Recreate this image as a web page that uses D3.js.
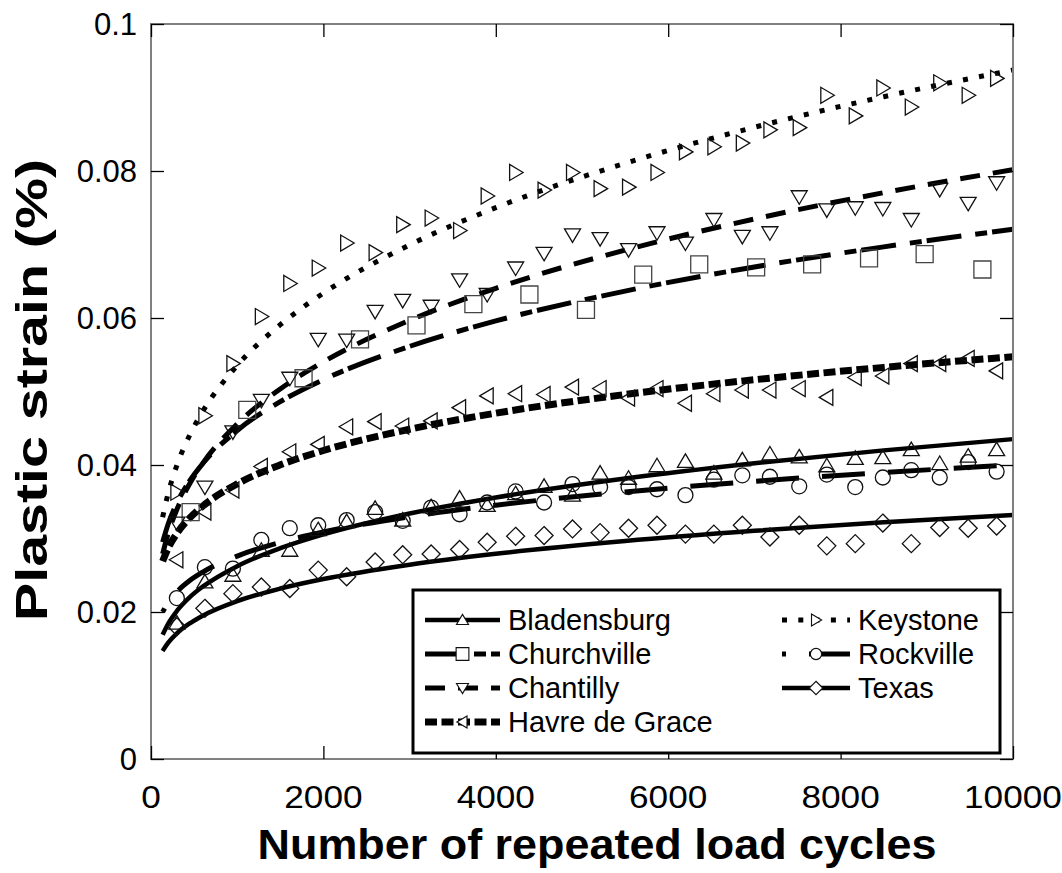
<!DOCTYPE html>
<html>
<head>
<meta charset="utf-8">
<script src="https://cdn.jsdelivr.net/npm/d3@7"></script>
<style>
  html, body { margin: 0; padding: 0; background: #fff; }
  svg text { font-family: "Liberation Sans", Arial, Helvetica, sans-serif; }
</style>
</head>
<body>
<svg id="chart" width="1062" height="873"></svg>
<script>
// ---------------- DATA ----------------
const seriesNames = ["Bladensburg", "Churchville", "Chantilly", "Havre de Grace", "Keystone", "Rockville", "Texas"];

// common load-cycle grid (all series except Churchville)
const cycles = [300, 625, 950, 1280, 1610, 1940, 2270, 2600, 2920, 3250,
                3580, 3900, 4230, 4560, 4890, 5210, 5540, 5870, 6200, 6530,
                6860, 7180, 7520, 7840, 8170, 8490, 8820, 9150, 9480, 9810];
const cyclesChurchville = [460, 1117, 1770, 2425, 3080, 3740, 4390, 5046, 5710, 6360,
                           7020, 7670, 8330, 8975, 9645];

const bladensburg = [0.0185, 0.0241, 0.0250, 0.0284, 0.0284, 0.0312, 0.0323, 0.0341, 0.0325, 0.0343,
                     0.0355, 0.0345, 0.0361, 0.0371, 0.0359, 0.0389, 0.0382, 0.0399, 0.0405, 0.0389,
                     0.0407, 0.0415, 0.0411, 0.0399, 0.0409, 0.0410, 0.0421, 0.0402, 0.0412, 0.0421];
const churchville = [0.0336, 0.0475, 0.0518, 0.0571, 0.0590, 0.0619, 0.0632, 0.0611, 0.0659, 0.0673,
                     0.0669, 0.0673, 0.0681, 0.0687, 0.0666];
const chantilly = [0.0321, 0.0370, 0.0445, 0.0488, 0.0518, 0.0571, 0.0570, 0.0609, 0.0624, 0.0616,
                   0.0652, 0.0632, 0.0668, 0.0688, 0.0713, 0.0708, 0.0693, 0.0716, 0.0702, 0.0734,
                   0.0711, 0.0716, 0.0765, 0.0747, 0.0750, 0.0749, 0.0734, 0.0775, 0.0756, 0.0784];
const havreDeGrace = [0.0271, 0.0336, 0.0366, 0.0398, 0.0418, 0.0428, 0.0452, 0.0459, 0.0453, 0.0460,
                      0.0478, 0.0494, 0.0497, 0.0496, 0.0506, 0.0504, 0.0491, 0.0504, 0.0484, 0.0497,
                      0.0502, 0.0502, 0.0504, 0.0492, 0.0519, 0.0521, 0.0538, 0.0538, 0.0545, 0.0528];
const keystone = [0.0363, 0.0467, 0.0538, 0.0602, 0.0647, 0.0668, 0.0702, 0.0689, 0.0727, 0.0736,
                  0.0719, 0.0766, 0.0798, 0.0774, 0.0798, 0.0776, 0.0778, 0.0798, 0.0826, 0.0833,
                  0.0838, 0.0856, 0.0859, 0.0903, 0.0875, 0.0913, 0.0887, 0.0920, 0.0903, 0.0926];
const rockville = [0.0219, 0.0261, 0.0259, 0.0298, 0.0314, 0.0318, 0.0325, 0.0336, 0.0324, 0.0342,
                   0.0333, 0.0349, 0.0364, 0.0349, 0.0374, 0.0370, 0.0370, 0.0367, 0.0359, 0.0380,
                   0.0386, 0.0384, 0.0371, 0.0387, 0.0370, 0.0383, 0.0393, 0.0383, 0.0404, 0.0391];
const texas = [0.0180, 0.0205, 0.0225, 0.0234, 0.0232, 0.0257, 0.0248, 0.0268, 0.0278, 0.0279,
               0.0285, 0.0295, 0.0303, 0.0304, 0.0313, 0.0308, 0.0314, 0.0318, 0.0306, 0.0306,
               0.0318, 0.0302, 0.0318, 0.0290, 0.0293, 0.0321, 0.0293, 0.0315, 0.0314, 0.0317];

// fitted trend curves
const trendCycles = [135, 200, 300, 450, 600, 1000, 1500, 2000, 3000, 4000, 5500, 7000, 8500, 10000];
const trendBladensburg = [0.01690, 0.01842, 0.02014, 0.02202, 0.02345, 0.02624, 0.02868, 0.03056, 0.03340, 0.03558, 0.03816, 0.04024, 0.04199, 0.04352];
const trendChurchville = [0.02950, 0.03200, 0.03482, 0.03787, 0.04020, 0.04470, 0.04862, 0.05161, 0.05614, 0.05960, 0.06366, 0.06694, 0.06968, 0.07207];
const trendChantilly   = [0.02790, 0.03072, 0.03394, 0.03748, 0.04022, 0.04559, 0.05035, 0.05403, 0.05968, 0.06404, 0.06924, 0.07347, 0.07705, 0.08018];
const trendHavre       = [0.02690, 0.02870, 0.03069, 0.03281, 0.03441, 0.03743, 0.04002, 0.04197, 0.04487, 0.04705, 0.04959, 0.05160, 0.05328, 0.05473];
const trendKeystone    = [0.03290, 0.03620, 0.03995, 0.04409, 0.04729, 0.05354, 0.05909, 0.06338, 0.06994, 0.07501, 0.08105, 0.08595, 0.09011, 0.09374];
const trendRockville   = [0.02000, 0.02131, 0.02274, 0.02428, 0.02543, 0.02761, 0.02948, 0.03088, 0.03296, 0.03453, 0.03634, 0.03778, 0.03898, 0.04001];
const trendTexas       = [0.01470, 0.01583, 0.01710, 0.01846, 0.01950, 0.02148, 0.02319, 0.02449, 0.02644, 0.02792, 0.02966, 0.03104, 0.03220, 0.03321];

const xTicks = [0, 2000, 4000, 6000, 8000, 10000];
const yTicks = [0, 0.02, 0.04, 0.06, 0.08, 0.1];
const yTickLabels = ["0", "0.02", "0.04", "0.06", "0.08", "0.1"];
const xTitle = "Number of repeated load cycles";
const yTitle = "Plastic strain (%)";

// ---------------- STYLE ----------------
const series = [
  { name: seriesNames[0], x: cycles, y: bladensburg, trend: trendBladensburg, marker: "up",      dash: null,           width: 4.5, off: 0 },
  { name: seriesNames[1], x: cyclesChurchville, y: churchville, trend: trendChurchville, marker: "square", dash: "35,14,12,5", width: 5, off: 0 },
  { name: seriesNames[2], x: cycles, y: chantilly, trend: trendChantilly, marker: "down",    dash: "20,13",        width: 5, off: 0 },
  { name: seriesNames[3], x: cycles, y: havreDeGrace, trend: trendHavre, marker: "left",    dash: "12,4.5",       width: 7, off: 0 },
  { name: seriesNames[4], x: cycles, y: keystone, trend: trendKeystone, marker: "right",   dash: "5,11.3",       width: 5, off: 0 },
  { name: seriesNames[5], x: cycles, y: rockville, trend: trendRockville, marker: "circle",  dash: "43,23",        width: 5, off: 39 },
  { name: seriesNames[6], x: cycles, y: texas, trend: trendTexas, marker: "diamond", dash: null,           width: 4.5, off: 0 }
];

const markerPath = {
  up:      "M0,-7.5L8,6L-8,6Z",
  down:    "M0,7.5L8,-6L-8,-6Z",
  right:   "M7.5,0L-6,-8L-6,8Z",
  left:    "M-7.5,0L6,-8L6,8Z",
  square:  "M-8.5,-8.5H8.5V8.5H-8.5Z",
  diamond: "M0,-9L9,0L0,9L-9,0Z",
  circle:  "M7.5,0A7.5,7.5 0 1,1 -7.5,0A7.5,7.5 0 1,1 7.5,0Z"
};

// ---------------- CHART ----------------
const svg = d3.select("#chart");
const mLeft = 151, mRight = 1013, mTop = 24, mBottom = 759;
const x = d3.scaleLinear().domain([0, 10000]).range([mLeft, mRight]);
const y = d3.scaleLinear().domain([0, 0.1]).range([mBottom, mTop]);

const plot = svg.append("g");

// trend lines
const line = d3.line().x(d => x(d[0])).y(d => y(d[1])).curve(d3.curveMonotoneX);
series.forEach(s => {
  plot.append("path")
    .datum(trendCycles.map((c, i) => [c, s.trend[i]]))
    .attr("d", line)
    .attr("fill", "none")
    .attr("stroke", "#000")
    .attr("stroke-width", s.width)
    .attr("stroke-dasharray", s.dash)
    .attr("stroke-dashoffset", s.off);
});

// markers
series.forEach(s => {
  plot.append("g").selectAll("path")
    .data(s.x.map((c, i) => [c, s.y[i]]))
    .join("path")
    .attr("transform", d => `translate(${x(d[0])},${y(d[1])})`)
    .attr("d", markerPath[s.marker])
    .attr("fill", "none")
    .attr("stroke", s.marker === "square" ? "#444" : "#111")
    .attr("stroke-width", 1.3);
});

// frame
svg.append("rect")
  .attr("x", mLeft).attr("y", mTop)
  .attr("width", mRight - mLeft).attr("height", mBottom - mTop)
  .attr("fill", "none").attr("stroke", "#808080").attr("stroke-width", 2);

// axes with inward ticks
const tickLen = 13;
svg.append("g").attr("transform", `translate(0,${mBottom})`)
  .call(d3.axisTop(x).tickValues(xTicks).tickSize(tickLen).tickFormat(""))
  .call(g => g.select(".domain").remove());
svg.append("g").attr("transform", `translate(0,${mTop})`)
  .call(d3.axisBottom(x).tickValues(xTicks).tickSize(tickLen).tickFormat(""))
  .call(g => g.select(".domain").remove());
svg.append("g").attr("transform", `translate(${mLeft},0)`)
  .call(d3.axisRight(y).tickValues(yTicks).tickSize(tickLen).tickFormat(""))
  .call(g => g.select(".domain").remove());
svg.append("g").attr("transform", `translate(${mRight},0)`)
  .call(d3.axisLeft(y).tickValues(yTicks).tickSize(tickLen).tickFormat(""))
  .call(g => g.select(".domain").remove());
svg.selectAll(".tick line").attr("stroke", "#000").attr("stroke-width", 1.3);

// tick labels (slightly widened to match the reference glyph proportions)
svg.append("g").selectAll("text").data(xTicks).join("text")
  .attr("x", d => x(d)).attr("y", 808)
  .attr("text-anchor", "middle")
  .attr("font-size", 32)
  .text(d => String(d))
  .each(function () {
    const w = this.getComputedTextLength();
    d3.select(this).attr("textLength", w * 1.1).attr("lengthAdjust", "spacingAndGlyphs");
  });
svg.append("g").selectAll("text").data(yTicks).join("text")
  .attr("x", 137).attr("y", d => y(d) + 11)
  .attr("text-anchor", "end")
  .attr("font-size", 31)
  .text((d, i) => yTickLabels[i]);

// axis titles
svg.append("text")
  .attr("x", 597).attr("y", 859)
  .attr("text-anchor", "middle")
  .attr("font-size", 43).attr("font-weight", "bold")
  .attr("textLength", 679).attr("lengthAdjust", "spacingAndGlyphs")
  .text(xTitle);
svg.append("text")
  .attr("transform", "translate(47,390) rotate(-90)")
  .attr("text-anchor", "middle")
  .attr("font-size", 45).attr("font-weight", "bold")
  .attr("textLength", 462).attr("lengthAdjust", "spacingAndGlyphs")
  .text(yTitle);

// legend
const lg = svg.append("g");
lg.append("rect").attr("x", 413).attr("y", 590).attr("width", 587).attr("height", 163)
  .attr("fill", "#fff").attr("stroke", "#000").attr("stroke-width", 3);
const legendPos = [
  { x0: 425, x1: 500, tx: 508, ty: 620 },
  { x0: 425, x1: 500, tx: 508, ty: 654 },
  { x0: 425, x1: 500, tx: 508, ty: 688 },
  { x0: 425, x1: 500, tx: 508, ty: 722 },
  { x0: 782, x1: 850, tx: 858, ty: 620 },
  { x0: 782, x1: 850, tx: 858, ty: 654 },
  { x0: 782, x1: 850, tx: 858, ty: 688 }
];
series.forEach((s, i) => {
  const p = legendPos[i];
  lg.append("line")
    .attr("x1", p.x0).attr("x2", p.x1).attr("y1", p.ty).attr("y2", p.ty)
    .attr("stroke", "#000").attr("stroke-width", s.width)
    .attr("stroke-dasharray", s.dash).attr("stroke-dashoffset", s.off);
  lg.append("path")
    .attr("transform", `translate(${(p.x0 + p.x1) / 2},${p.ty}) scale(0.75)`)
    .attr("d", markerPath[s.marker])
    .attr("fill", "#fff").attr("stroke", "#111").attr("stroke-width", 1.5);
  lg.append("text")
    .attr("x", p.tx).attr("y", p.ty + 10)
    .attr("font-size", 29)
    .text(s.name);
});
</script>
</body>
</html>
